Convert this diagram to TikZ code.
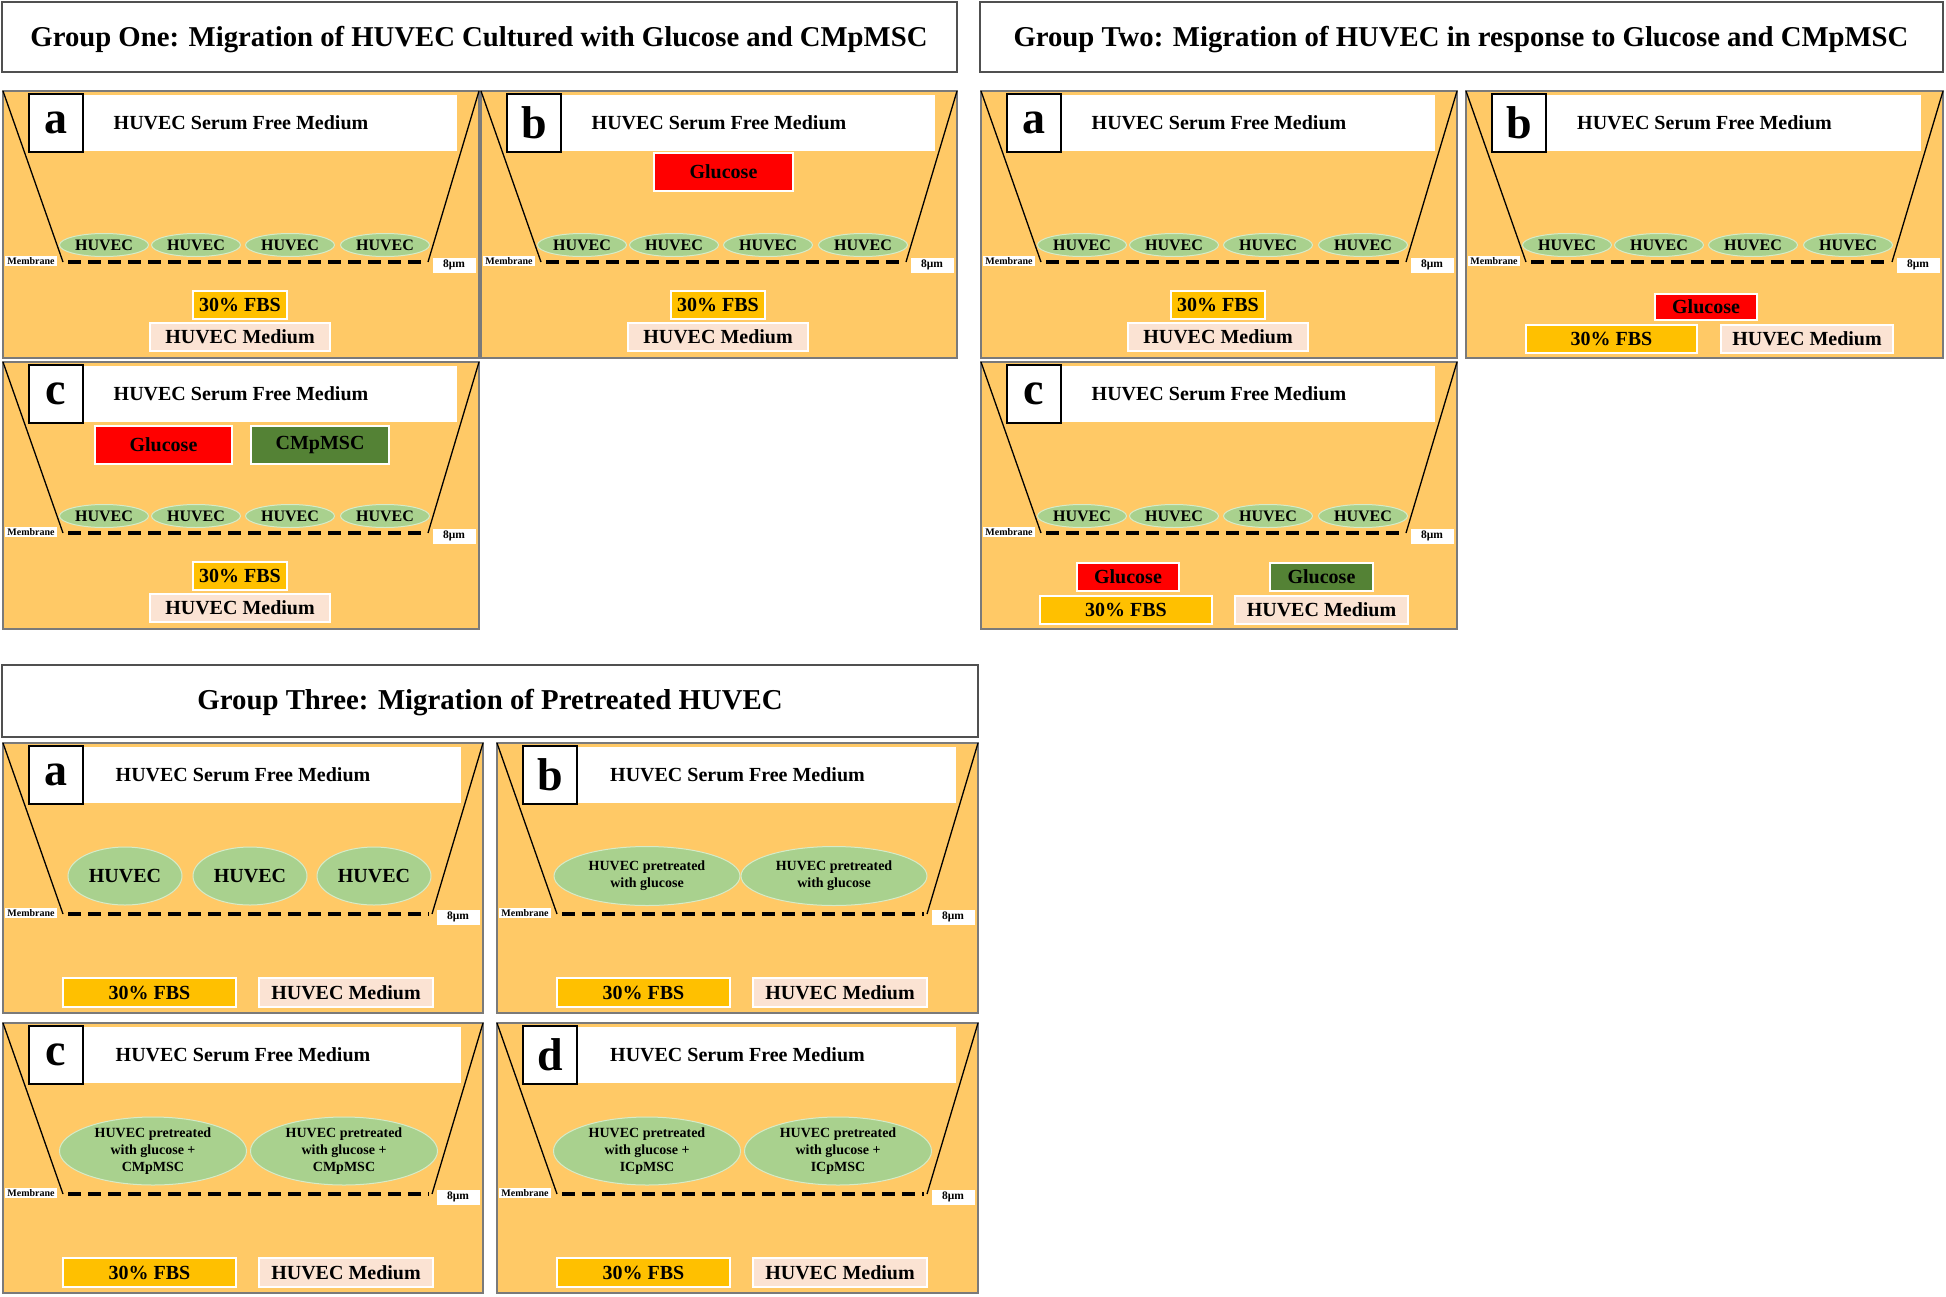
\documentclass[tikz,border=0pt]{standalone}
\usepackage{fontspec}
\setmainfont{Liberation Serif}
\usepackage{graphicx}
\usetikzlibrary{shapes.geometric}
\definecolor{bgc}{HTML}{FFC966}
\definecolor{framec}{HTML}{7A7A7A}
\definecolor{titlec}{HTML}{505050}
\definecolor{cellc}{HTML}{A9D18E}
\definecolor{celld}{HTML}{D6EBC8}
\definecolor{fbsc}{HTML}{FFC000}
\definecolor{medc}{HTML}{FBE3D3}
\definecolor{cmpc}{HTML}{548235}
\tikzset{
 panelbg/.style={fill=bgc, draw=framec, line width=1.5, inner sep=0, outer sep=0},
 hdrbox/.style={fill=white, inner sep=0, outer sep=0},
 hdrtext/.style={font=\fontsize{20}{24}\selectfont\bfseries, inner sep=0},
 letterbox/.style={fill=white, draw=black, line width=1.5, inner sep=0, outer sep=0, font=\fontsize{46}{46}\selectfont\bfseries},
 wall/.style={draw=black, line width=1.3},
 membrane/.style={draw=black, line width=4.5, dash pattern=on 12.5 off 7.5},
 smalltag/.style={fill=white, inner sep=0, outer sep=0, font=\fontsize{10}{10}\selectfont\bfseries},
 umtag/.style={fill=white, inner sep=0, outer sep=0, font=\fontsize{11.5}{11.5}\selectfont\bfseries},
 colortag/.style={draw=white, line width=2, inner sep=0, outer sep=0, font=\fontsize{20}{24}\selectfont\bfseries},
 fbs/.style={colortag, fill=fbsc},
 medium/.style={colortag, fill=medc},
 glu/.style={colortag, fill=red},
 cmp/.style={colortag, fill=cmpc},
 cell/.style={ellipse, fill=cellc, draw=celld, line width=1, inner sep=0, outer sep=0, align=center},
 smallcell/.style={cell, font=\fontsize{16}{16}\selectfont\bfseries},
 bigcell/.style={cell, font=\fontsize{20}{20}\selectfont\bfseries},
 textcell/.style={cell, font=\fontsize{14}{16.7}\selectfont\bfseries},
 titlebox/.style={draw=titlec, line width=1.5, fill=white, inner sep=0, outer sep=0},
 titletext/.style={inner sep=0}
}
% box from (x1,y1) to (x2,y2)
\newcommand\putbox[7]{\node[#6, minimum width={#4-#2}, minimum height={#5-#3}] (#1) at ({(#2+#4)/2},{(#3+#5)/2}) {#7};}
% prefix, x, y, W, H, letter
\newcommand\wellpanel[6]{%
 \begin{scope}[shift={(#2,#3)}]
  \node[panelbg, minimum width=#4, minimum height=#5, anchor=north west] (#1) at (0,0) {};
  \node[hdrbox, minimum width={#4-102}, minimum height=56, anchor=north west] (#1-hdr) at (80,4) {};
  \node[hdrtext] (#1-hdrt) at ({#4/2},32) {HUVEC Serum Free Medium};
  \node[letterbox, minimum width=54, minimum height=58, anchor=north west] (#1-let) at (26,3) {#6};
  \coordinate (#1-tl) at (0,0);
  \coordinate (#1-tr) at (#4,0);
  \coordinate (#1-bl) at (60,171);
  \coordinate (#1-br) at ({#4-51},171);
  \draw[wall] (#1-tl) -- (#1-bl);
  \draw[wall] (#1-tr) -- (#1-br);
  \coordinate (#1-ml) at (65,171);
  \coordinate (#1-mr) at ({#4-54},171);
  \draw[membrane] (#1-ml) -- (#1-mr);
  \node[smalltag, minimum width=52, minimum height=10] (#1-mem) at (28,170) {Membrane};
  \node[umtag, minimum width=43, minimum height=15] (#1-um) at ({#4-25},174) {8μm};
 \end{scope}}
\newcommand\fourcells[1]{%
 \foreach \i/\xx in {1/101,2/193,3/287,4/382}{%
  \node[smallcell, minimum width=89, minimum height=23] (#1-c\i) at (\xx,154) {HUVEC};}}
\begin{document}
\begin{tikzpicture}[x=1pt,y=-1pt]
\useasboundingbox[fill=white] (0,0) rectangle (1946,1296);

% ---------- titles ----------
\node[titlebox, minimum width=955, minimum height=70, anchor=north west] (t1) at (2,2) {};
\node[titletext] (t1t) at (479,40) {\resizebox{897pt}{!}{\fontsize{30}{36}\selectfont\bfseries Group One: Migration of HUVEC Cultured with Glucose and CMpMSC}};
\node[titlebox, minimum width=963, minimum height=70, anchor=north west] (t2) at (980,2) {};
\node[titletext] (t2t) at (1461,40) {\resizebox{895pt}{!}{\fontsize{30}{36}\selectfont\bfseries Group Two: Migration of HUVEC in response to Glucose and CMpMSC}};
\node[titlebox, minimum width=976, minimum height=72, anchor=north west] (t3) at (2,665) {};
\node[titletext] (t3t) at (490,703) {\resizebox{585pt}{!}{\fontsize{30}{36}\selectfont\bfseries Group Three: Migration of Pretreated HUVEC}};

% ---------- Group One ----------
\wellpanel{g1a}{3}{91}{476}{267}{a}
\begin{scope}[shift={(3,91)}]
 \fourcells{g1a}
 \putbox{g1a-fbs}{190}{200}{284}{228}{fbs}{30\% FBS}
 \putbox{g1a-med}{147}{232}{327}{260}{medium}{HUVEC Medium}
\end{scope}

\wellpanel{g1b}{481}{91}{476}{267}{b}
\begin{scope}[shift={(481,91)}]
 \fourcells{g1b}
 \putbox{g1b-glu}{173}{62}{312}{100}{glu}{Glucose}
 \putbox{g1b-fbs}{190}{200}{284}{228}{fbs}{30\% FBS}
 \putbox{g1b-med}{147}{232}{327}{260}{medium}{HUVEC Medium}
\end{scope}

\wellpanel{g1c}{3}{362}{476}{267}{c}
\begin{scope}[shift={(3,362)}]
 \fourcells{g1c}
 \putbox{g1c-glu}{92}{64}{229}{102}{glu}{Glucose}
 \putbox{g1c-cmp}{248}{64}{386}{102}{cmp}{CMpMSC}
 \putbox{g1c-fbs}{190}{200}{284}{228}{fbs}{30\% FBS}
 \putbox{g1c-med}{147}{232}{327}{260}{medium}{HUVEC Medium}
\end{scope}

% ---------- Group Two ----------
\wellpanel{g2a}{981}{91}{476}{267}{a}
\begin{scope}[shift={(981,91)}]
 \fourcells{g2a}
 \putbox{g2a-fbs}{190}{200}{284}{228}{fbs}{30\% FBS}
 \putbox{g2a-med}{147}{232}{327}{260}{medium}{HUVEC Medium}
\end{scope}

\wellpanel{g2b}{1466}{91}{477}{267}{b}
\begin{scope}[shift={(1466,91)}]
 \fourcells{g2b}
 \putbox{g2b-glu}{189}{203}{291}{229}{glu}{Glucose}
 \putbox{g2b-fbs}{60}{234}{231}{262}{fbs}{30\% FBS}
 \putbox{g2b-med}{255}{234}{427}{262}{medium}{HUVEC Medium}
\end{scope}

\wellpanel{g2c}{981}{362}{476}{267}{c}
\begin{scope}[shift={(981,362)}]
 \fourcells{g2c}
 \putbox{g2c-glu}{96}{201}{198}{229}{glu}{Glucose}
 \putbox{g2c-glu2}{289}{201}{392}{229}{cmp}{Glucose}
 \putbox{g2c-fbs}{59}{234}{231}{262}{fbs}{30\% FBS}
 \putbox{g2c-med}{254}{234}{427}{262}{medium}{HUVEC Medium}
\end{scope}

% ---------- Group Three ----------
\wellpanel{g3a}{3}{743}{480}{270}{a}
\begin{scope}[shift={(3,743)}]
 \node[bigcell, minimum width=114, minimum height=58] (g3a-c1) at (122,133) {HUVEC};
 \node[bigcell, minimum width=114, minimum height=58] (g3a-c2) at (247,133) {HUVEC};
 \node[bigcell, minimum width=114, minimum height=58] (g3a-c3) at (371,133) {HUVEC};
 \putbox{g3a-fbs}{60}{235}{233}{264}{fbs}{30\% FBS}
 \putbox{g3a-med}{256}{235}{430}{264}{medium}{HUVEC Medium}
\end{scope}

\wellpanel{g3b}{497}{743}{481}{270}{b}
\begin{scope}[shift={(497,743)}]
 \node[textcell, minimum width=186, minimum height=59] (g3b-c1) at (150,133) {HUVEC pretreated\\with glucose};
 \node[textcell, minimum width=186, minimum height=59] (g3b-c2) at (337,133) {HUVEC pretreated\\with glucose};
 \putbox{g3b-fbs}{60}{235}{233}{264}{fbs}{30\% FBS}
 \putbox{g3b-med}{256}{235}{430}{264}{medium}{HUVEC Medium}
\end{scope}

\wellpanel{g3c}{3}{1023}{480}{270}{c}
\begin{scope}[shift={(3,1023)}]
 \node[textcell, minimum width=187, minimum height=68] (g3c-c1) at (150,128) {HUVEC pretreated\\with glucose +\\CMpMSC};
 \node[textcell, minimum width=187, minimum height=68] (g3c-c2) at (341,128) {HUVEC pretreated\\with glucose +\\CMpMSC};
 \putbox{g3c-fbs}{60}{235}{233}{264}{fbs}{30\% FBS}
 \putbox{g3c-med}{256}{235}{430}{264}{medium}{HUVEC Medium}
\end{scope}

\wellpanel{g3d}{497}{1023}{481}{270}{d}
\begin{scope}[shift={(497,1023)}]
 \node[textcell, minimum width=187, minimum height=68] (g3d-c1) at (150,128) {HUVEC pretreated\\with glucose +\\ICpMSC};
 \node[textcell, minimum width=187, minimum height=68] (g3d-c2) at (341,128) {HUVEC pretreated\\with glucose +\\ICpMSC};
 \putbox{g3d-fbs}{60}{235}{233}{264}{fbs}{30\% FBS}
 \putbox{g3d-med}{256}{235}{430}{264}{medium}{HUVEC Medium}
\end{scope}
\end{tikzpicture}
\end{document}
